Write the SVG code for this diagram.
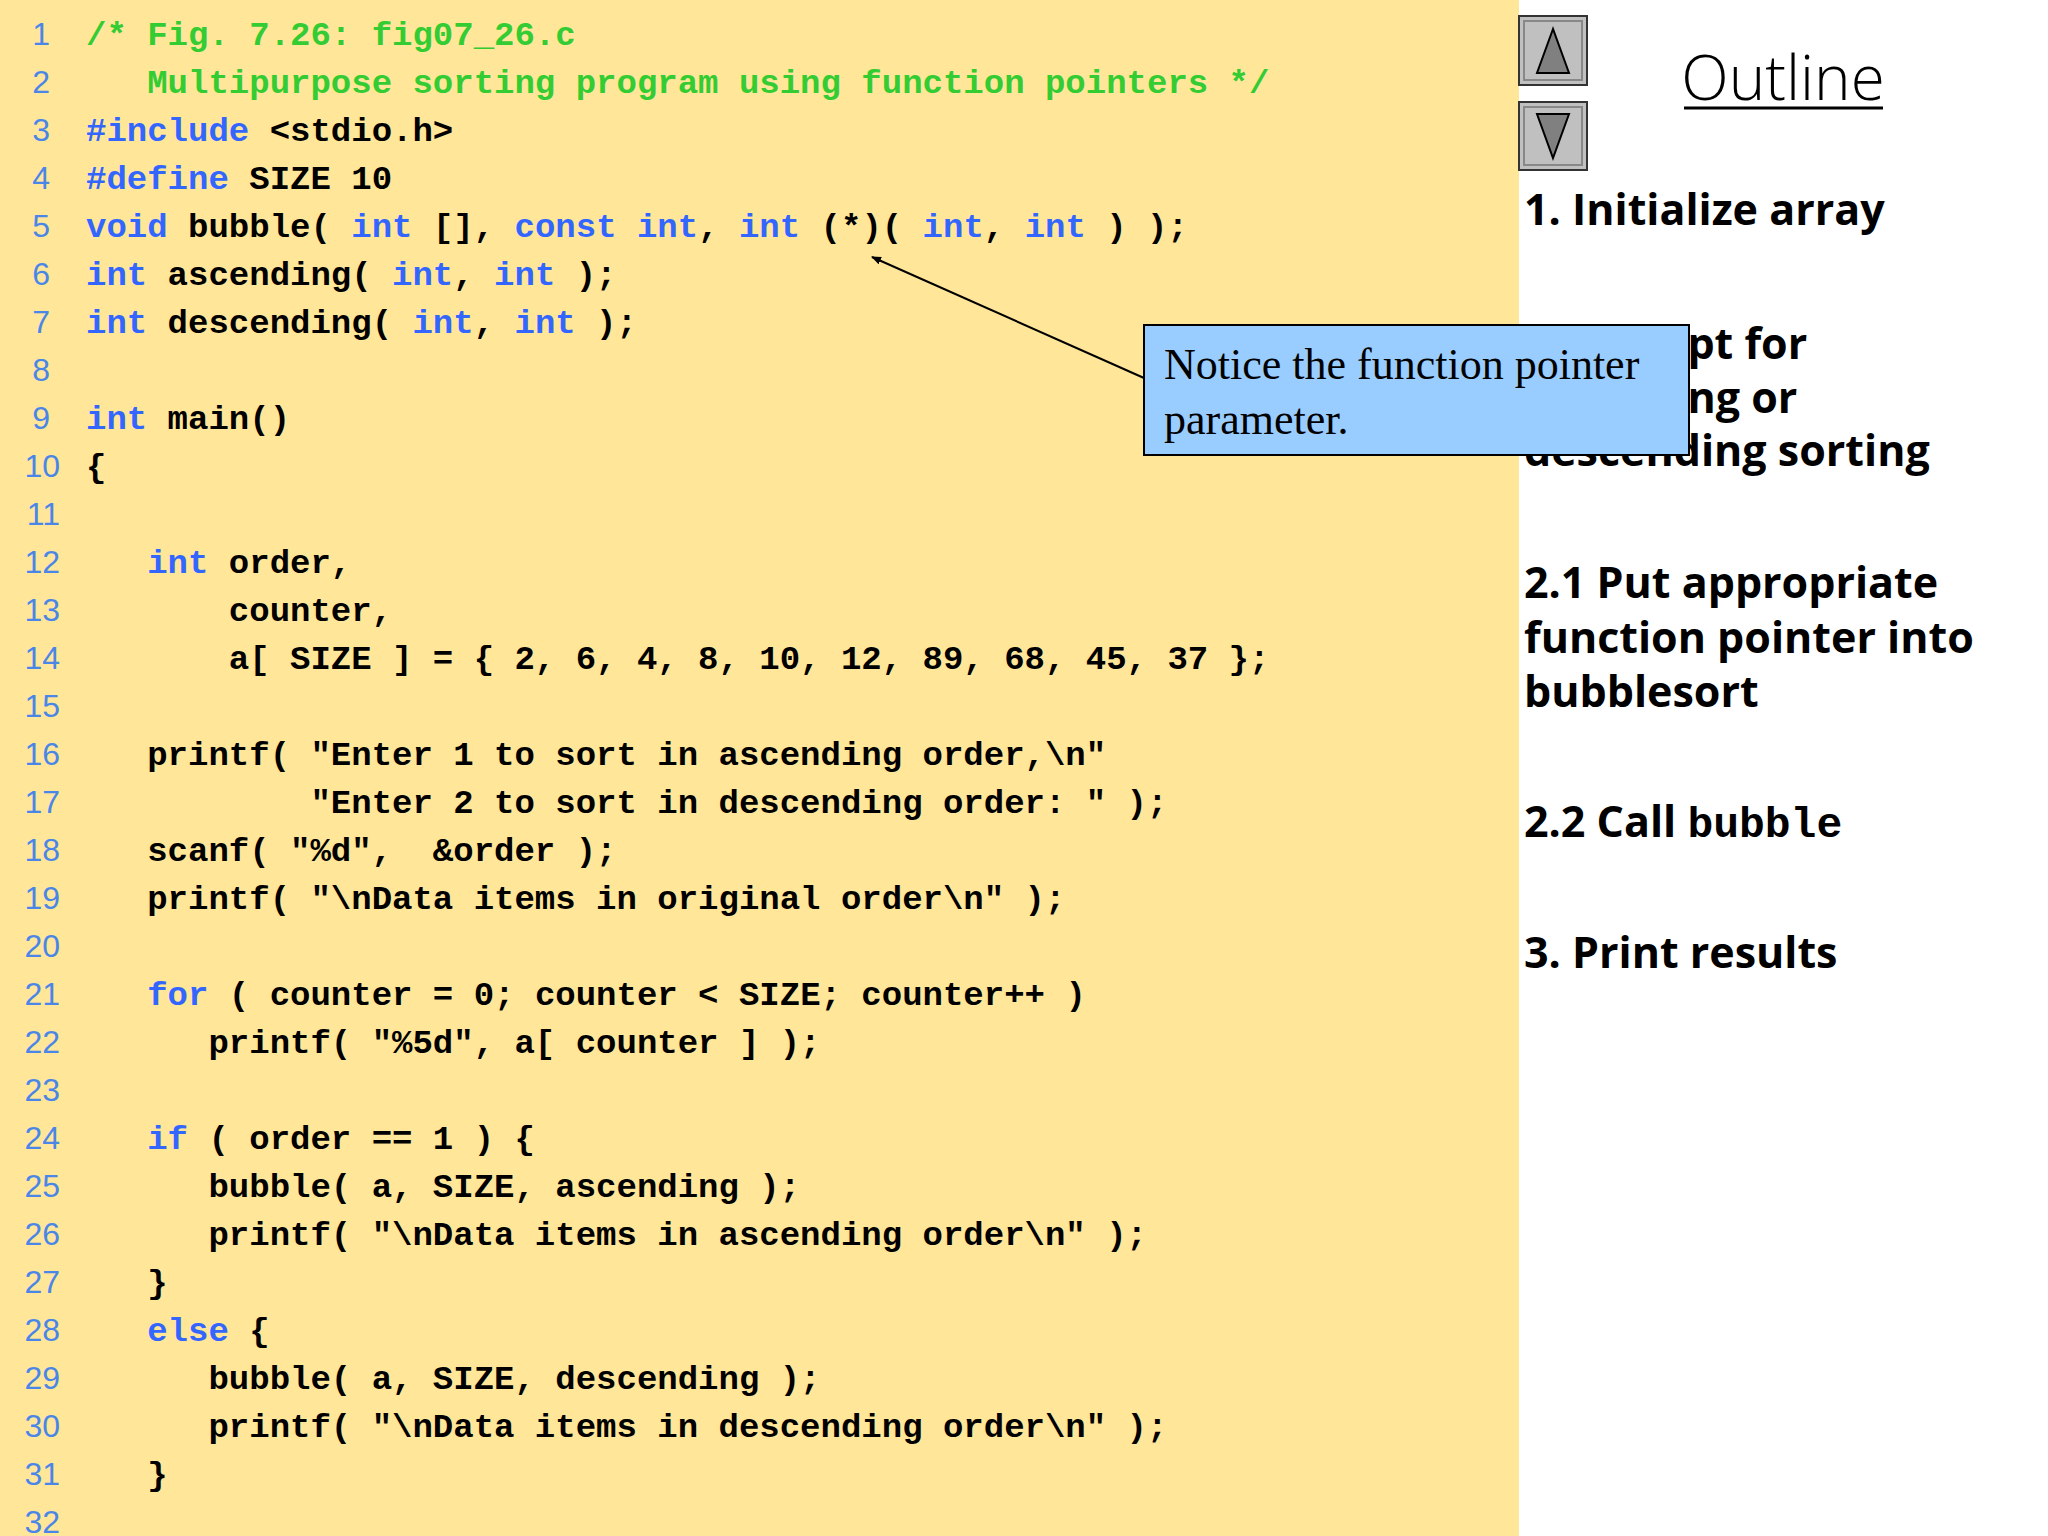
<svg xmlns="http://www.w3.org/2000/svg" width="2048" height="1536" viewBox="0 0 2048 1536">
<defs>
<style>
.ln{font-family:"Liberation Sans",Arial,sans-serif;font-size:32px;fill:#4A86E8;text-anchor:end}
.c{font-family:"Liberation Mono","Courier New",monospace;font-weight:bold;font-size:34px;fill:#000;white-space:pre}
.k{fill:#3366FF}
.g{fill:#33CC33}
.o{font-family:"Open Sans","DejaVu Sans",sans-serif;font-weight:bold;font-size:43px;fill:#000}
.m{font-family:"Liberation Mono",monospace;font-weight:bold}
</style>
<marker id="ah" markerWidth="10" markerHeight="8" refX="9" refY="4" orient="auto" markerUnits="userSpaceOnUse" viewBox="0 0 10 8"><path d="M0,0 L10,4 L0,8 z" fill="#000"/></marker>
</defs>
<rect x="0" y="0" width="2048" height="1536" fill="#fff"/>
<rect x="0" y="0" width="1519" height="1536" fill="#FFE699"/>
<g id="linenums">
<text class="ln" x="50" y="45">1</text><text class="ln" x="50" y="93">2</text><text class="ln" x="50" y="141">3</text><text class="ln" x="50" y="189">4</text><text class="ln" x="50" y="237">5</text><text class="ln" x="50" y="285">6</text><text class="ln" x="50" y="333">7</text><text class="ln" x="50" y="381">8</text><text class="ln" x="50" y="429">9</text><text class="ln" x="60" y="477">10</text><text class="ln" x="60" y="525">11</text><text class="ln" x="60" y="573">12</text><text class="ln" x="60" y="621">13</text><text class="ln" x="60" y="669">14</text><text class="ln" x="60" y="717">15</text><text class="ln" x="60" y="765">16</text><text class="ln" x="60" y="813">17</text><text class="ln" x="60" y="861">18</text><text class="ln" x="60" y="909">19</text><text class="ln" x="60" y="957">20</text><text class="ln" x="60" y="1005">21</text><text class="ln" x="60" y="1053">22</text><text class="ln" x="60" y="1101">23</text><text class="ln" x="60" y="1149">24</text><text class="ln" x="60" y="1197">25</text><text class="ln" x="60" y="1245">26</text><text class="ln" x="60" y="1293">27</text><text class="ln" x="60" y="1341">28</text><text class="ln" x="60" y="1389">29</text><text class="ln" x="60" y="1437">30</text><text class="ln" x="60" y="1485">31</text><text class="ln" x="60" y="1533">32</text>
</g>
<g id="code">
<text class="c" x="86" y="45"><tspan class="g">/* Fig. 7.26: fig07_26.c</tspan></text>
<text class="c" x="86" y="93"><tspan class="g">   Multipurpose sorting program using function pointers */</tspan></text>
<text class="c" x="86" y="141"><tspan class="k">#include</tspan> &lt;stdio.h&gt;</text>
<text class="c" x="86" y="189"><tspan class="k">#define</tspan> SIZE 10</text>
<text class="c" x="86" y="237"><tspan class="k">void</tspan> bubble( <tspan class="k">int</tspan> [], <tspan class="k">const int</tspan>, <tspan class="k">int</tspan> (*)( <tspan class="k">int</tspan>, <tspan class="k">int</tspan> ) );</text>
<text class="c" x="86" y="285"><tspan class="k">int</tspan> ascending( <tspan class="k">int</tspan>, <tspan class="k">int</tspan> );</text>
<text class="c" x="86" y="333"><tspan class="k">int</tspan> descending( <tspan class="k">int</tspan>, <tspan class="k">int</tspan> );</text>
<text class="c" x="86" y="429"><tspan class="k">int</tspan> main()</text>
<text class="c" x="86" y="477">{</text>
<text class="c" x="86" y="573">   <tspan class="k">int</tspan> order,</text>
<text class="c" x="86" y="621">       counter,</text>
<text class="c" x="86" y="669">       a[ SIZE ] = { 2, 6, 4, 8, 10, 12, 89, 68, 45, 37 };</text>
<text class="c" x="86" y="765">   printf( "Enter 1 to sort in ascending order,\n"</text>
<text class="c" x="86" y="813">           "Enter 2 to sort in descending order: " );</text>
<text class="c" x="86" y="861">   scanf( "%d",  &amp;order );</text>
<text class="c" x="86" y="909">   printf( "\nData items in original order\n" );</text>
<text class="c" x="86" y="1005">   <tspan class="k">for</tspan> ( counter = 0; counter &lt; SIZE; counter++ )</text>
<text class="c" x="86" y="1053">      printf( "%5d", a[ counter ] );</text>
<text class="c" x="86" y="1149">   <tspan class="k">if</tspan> ( order == 1 ) {</text>
<text class="c" x="86" y="1197">      bubble( a, SIZE, ascending );</text>
<text class="c" x="86" y="1245">      printf( "\nData items in ascending order\n" );</text>
<text class="c" x="86" y="1293">   }</text>
<text class="c" x="86" y="1341">   <tspan class="k">else</tspan> {</text>
<text class="c" x="86" y="1389">      bubble( a, SIZE, descending );</text>
<text class="c" x="86" y="1437">      printf( "\nData items in descending order\n" );</text>
<text class="c" x="86" y="1485">   }</text>
</g>
<g id="nav-up">
<rect x="1519" y="16" width="68" height="69" fill="#C0C0C0" stroke="#333" stroke-width="2"/>
<rect x="1524" y="21" width="58" height="59" fill="none" stroke="#888" stroke-width="2"/>
<path d="M1553,29 L1537,73 L1569,73 Z" fill="#808080" stroke="#000" stroke-width="2"/>
</g>
<g id="nav-down">
<rect x="1519" y="102" width="68" height="68" fill="#C0C0C0" stroke="#333" stroke-width="2"/>
<rect x="1524" y="107" width="58" height="58" fill="none" stroke="#888" stroke-width="2"/>
<path d="M1537,114 L1569,114 L1553,158 Z" fill="#808080" stroke="#000" stroke-width="2"/>
</g>
<g id="outline">
<text x="1783" y="100" text-anchor="middle" font-family="'Open Sans','DejaVu Sans',sans-serif" font-weight="300" font-size="62" fill="#000">Outline</text>
<line x1="1684" y1="108" x2="1883" y2="108" stroke="#000" stroke-width="3"/>
<text class="o" x="1524" y="225">1. Initialize array</text>
<text class="o" x="1524" y="359">2. Prompt for</text>
<text class="o" x="1524" y="413">ascending or</text>
<text class="o" x="1524" y="466">descending sorting</text>
<text class="o" x="1524" y="598">2.1  Put appropriate</text>
<text class="o" x="1524" y="653">function pointer into</text>
<text class="o" x="1524" y="707">bubblesort</text>
<text class="o" x="1524" y="837">2.2  Call <tspan class="m">bubble</tspan></text>
<text class="o" x="1524" y="968">3.  Print results</text>
</g>
<g id="connectors">
<line x1="1144" y1="378" x2="872" y2="257" stroke="#000" stroke-width="2" marker-end="url(#ah)"/>
</g>
<g id="callout">
<rect x="1144" y="325" width="545" height="130" fill="#99CCFF" stroke="#000" stroke-width="2"/>
<text x="1164" y="379" font-family="'Liberation Serif','Times New Roman',serif" font-size="44" fill="#000">Notice the function pointer</text>
<text x="1164" y="434" font-family="'Liberation Serif','Times New Roman',serif" font-size="44" fill="#000">parameter.</text>
</g>
</svg>
